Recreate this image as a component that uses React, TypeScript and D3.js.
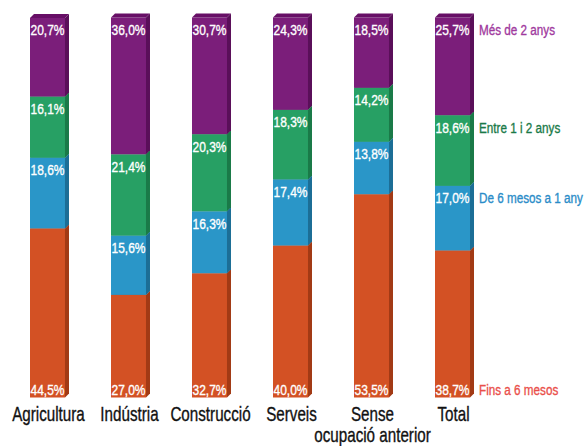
import React from 'react';
import { scaleBand, scaleLinear } from 'd3';

const categories = ['Agricultura', 'Indústria', 'Construcció', 'Serveis', 'Sense ocupació anterior', 'Total'];
const catLines = [['Agricultura'], ['Indústria'], ['Construcció'], ['Serveis'], ['Sense', 'ocupació anterior'], ['Total']];

const seriesNames = ['Fins a 6 mesos', 'De 6 mesos a 1 any', 'Entre 1 i 2 anys', 'Més de 2 anys'];
const fins6 = [44.5, 27.0, 32.7, 40.0, 53.5, 38.7];
const de6a1 = [18.6, 15.6, 16.3, 17.4, 13.8, 17.0];
const entre1i2 = [16.1, 21.4, 20.3, 18.3, 14.2, 18.6];
const mes2 = [20.7, 36.0, 30.7, 24.3, 18.5, 25.7];
const seriesValues = [fins6, de6a1, entre1i2, mes2];

const front = ['#d35124', '#2a96c8', '#27a064', '#7b1e7a'];
const side = ['#a23a15', '#1c6e96', '#1a7a48', '#5a0f59'];
const top = ['#b8441b', '#2380ad', '#208a55', '#670f66'];
const legendColors = ['#ea4f4a', '#2a8cc8', '#1a7a48', '#a0399e'];

const FONT = '"Liberation Sans", Arial, sans-serif';
const d = 4;

// narrow text: Liberation Sans squeezed horizontally, thin stroke for weight
const Narrow = ({ x, y, sx, size, fill, anchor = 'start', children }: any) => (
  <text
    transform={`translate(${x},${y}) scale(${sx},1)`}
    textAnchor={anchor}
    fill={fill}
    stroke={fill}
    strokeWidth={0.35}
    fontSize={size}
    fontFamily={FONT}
  >
    {children}
  </text>
);

export default function App() {
  const x = scaleBand<string>().domain(categories).range([30, 470]).paddingInner(0.568).paddingOuter(0);
  const y = scaleLinear().domain([0, 100]).range([397.5, 17.5]);
  const w = x.bandwidth();

  return (
    <svg width={586} height={446} style={{ position: 'absolute', left: 0, top: 0 }}>
      {categories.map((c, ci) => {
        const x0 = x(c)!;
        let cum = 0;
        return (
          <g key={c}>
            {seriesValues.map((vals, si) => {
              const v = vals[ci];
              const yb = y(cum);
              const yt = y(cum + v);
              cum += v;
              const ly = si === 0 ? yb - 3 : yt + 17.5;
              const label = v.toFixed(1).replace('.', ',') + '%';
              return (
                <g key={si}>
                  <rect x={x0} y={yt} width={w} height={yb - yt} fill={front[si]} />
                  <polygon
                    points={`${x0 + w},${yt} ${x0 + w + d},${yt - d} ${x0 + w + d},${yb - d} ${x0 + w},${yb}`}
                    fill={side[si]}
                  />
                  <polygon
                    points={`${x0},${yt} ${x0 + d},${yt - d} ${x0 + w + d},${yt - d} ${x0 + w},${yt}`}
                    fill={top[si]}
                  />
                  <Narrow x={x0 + w / 2} y={ly} sx={0.8} size={15} fill="#fff" anchor="middle">
                    {label}
                  </Narrow>
                  {ci === categories.length - 1 && (
                    <Narrow x={x0 + w + 9} y={ly} sx={0.755} size={15.5} fill={legendColors[si]}>
                      {seriesNames[si]}
                    </Narrow>
                  )}
                </g>
              );
            })}
            {catLines[ci].map((line, li) => (
              <Narrow key={li} x={x0 + w / 2 + 1} y={421 + li * 21} sx={0.76} size={20} fill="#111" anchor="middle">
                {line}
              </Narrow>
            ))}
          </g>
        );
      })}
    </svg>
  );
}
